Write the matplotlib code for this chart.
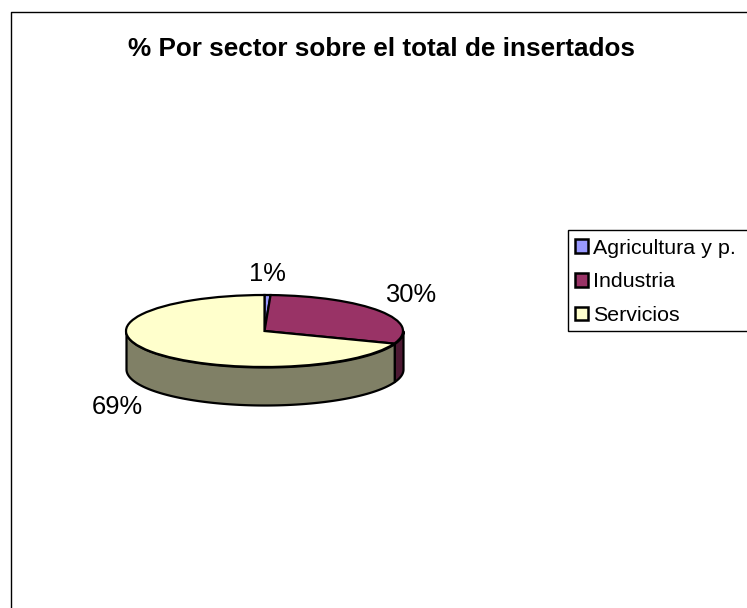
import numpy as np
import matplotlib
matplotlib.use("Agg")
import matplotlib.pyplot as plt
from matplotlib.patches import Patch, Rectangle

plt.rcParams['font.family'] = ['Liberation Sans', 'DejaVu Sans']

title = "% Por sector sobre el total de insertados"
categories = ["Agricultura y p.", "Industria", "Servicios"]
values = [0.7, 30.0, 69.3]
value_labels = ["1%", "30%", "69%"]
top_colors = ["#9999FF", "#993366", "#FFFFCC"]
side_colors = ["#4D4D80", "#4D1933", "#808066"]

W, H = 747, 608
fig = plt.figure(figsize=(W / 100, H / 100), dpi=100, facecolor="white")

# overlay in pixel coordinates
ov = fig.add_axes([0, 0, 1, 1])
ov.set_xlim(0, W)
ov.set_ylim(H, 0)
ov.axis("off")
ov.plot([10.5, 10.5, W], [H, 12, 12], color="black", lw=1.0, solid_capstyle="butt", zorder=1)

# pie axes: ellipse 126..403 x 295..367
L, R, T, B = 126, 403, 295, 367
ax = fig.add_axes([L / W, 1 - B / H, (R - L) / W, (B - T) / H])
wedges, _ = ax.pie(values, colors=top_colors, startangle=90, counterclock=False, radius=1,
                   wedgeprops=dict(edgecolor="black", linewidth=1.6, zorder=3))
ax.set_aspect("auto")
ax.set_xlim(-1, 1)
ax.set_ylim(-1, 1)
ax.axis("off")
for w in wedges:
    w.set_clip_on(False)

depth = 38 / ((B - T) / 2)
edges = 90 - 360 * np.cumsum([0] + values) / sum(values)
for i in range(len(values)):
    hi, lo = min(edges[i], 0), max(edges[i + 1], -180)
    if lo >= hi:
        continue
    t = np.radians(np.linspace(lo, hi, 120))
    ax.fill_between(np.cos(t), np.sin(t), np.sin(t) - depth, facecolor=side_colors[i],
                    edgecolor="black", linewidth=1.6, clip_on=False, zorder=2)

# value labels
label_pos = [(267.5, 271.5), (411, 293), (117.5, 405)]
for s, (x, y) in zip(value_labels, label_pos):
    ov.text(x, y, s, fontsize=18.4, ha="center", va="center_baseline", color="black")

ov.text(382, 46, title, fontsize=18.8, fontweight="bold", ha="center", va="center_baseline", color="black")

# legend
ov.add_patch(Rectangle((567.5, 230), 180, 101, facecolor="white", edgecolor="black", lw=1.0, zorder=2))
handles = [Patch(facecolor=c, edgecolor="black", linewidth=1.8) for c in top_colors]
leg = ov.legend(handles, categories, loc="upper left", bbox_to_anchor=(575 / W, 1 - 238.5 / H),
                bbox_transform=fig.transFigure, frameon=False, fontsize=15.4, handlelength=0.6,
                handleheight=0.6, handletextpad=0.23, labelspacing=0.69, borderpad=0, borderaxespad=0)
leg.set_zorder(5)

fig.savefig("out.png", dpi=100, facecolor="white")
